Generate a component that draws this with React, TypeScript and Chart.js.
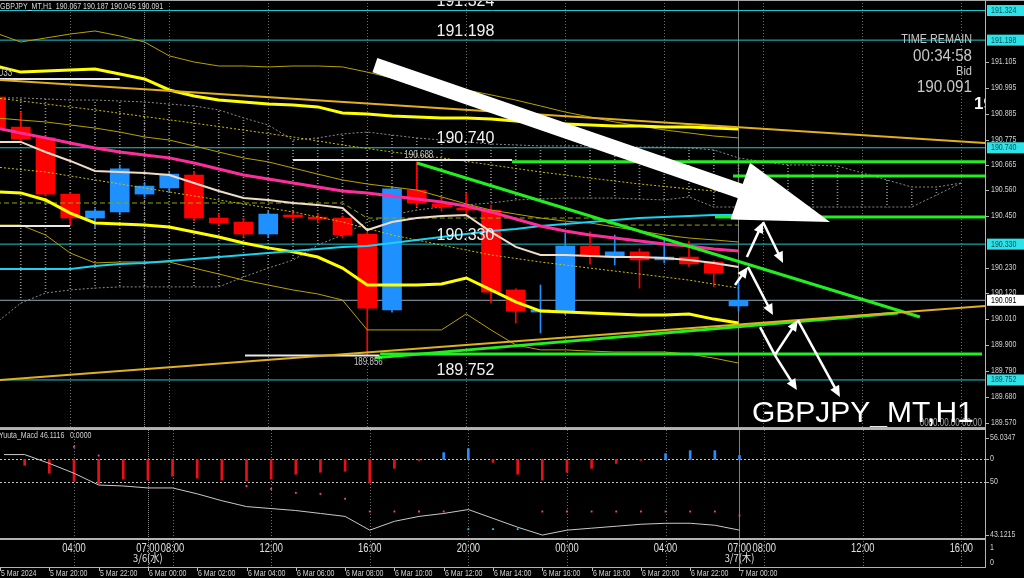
import React, { useEffect, useRef } from 'react';
import { Chart, registerables } from 'chart.js';
Chart.register(...registerables);

// ---------- categories (H1 bars, server time) ----------
const hours = [
  '5 Mar 18:00','5 Mar 19:00','5 Mar 20:00','5 Mar 21:00','5 Mar 22:00','5 Mar 23:00',
  '6 Mar 00:00','6 Mar 01:00','6 Mar 02:00','6 Mar 03:00','6 Mar 04:00','6 Mar 05:00',
  '6 Mar 06:00','6 Mar 07:00','6 Mar 08:00','6 Mar 09:00','6 Mar 10:00','6 Mar 11:00',
  '6 Mar 12:00','6 Mar 13:00','6 Mar 14:00','6 Mar 15:00','6 Mar 16:00','6 Mar 17:00',
  '6 Mar 18:00','6 Mar 19:00','6 Mar 20:00','6 Mar 21:00','6 Mar 22:00','6 Mar 23:00','7 Mar 00:00'
];

// ---------- OHLC ----------
const opens = [190.956,190.828,190.782,190.543,190.441,190.467,190.543,190.569,190.624,190.441,190.424,190.373,190.454,190.445,190.441,190.373,190.050,190.560,190.501,190.484,190.475,190.135,190.041,190.045,190.322,190.275,190.297,190.263,190.275,190.254,190.067];
const highs = [190.970,190.892,190.790,190.548,190.480,190.667,190.590,190.640,190.640,190.460,190.440,190.470,190.470,190.460,190.450,190.380,190.573,190.680,190.530,190.548,190.496,190.140,190.156,190.377,190.382,190.369,190.310,190.356,190.343,190.260,190.187];
const lows = [190.810,190.770,190.535,190.411,190.400,190.455,190.530,190.550,190.430,190.410,190.360,190.360,190.430,190.420,190.356,189.856,190.040,190.490,190.470,190.460,190.080,189.994,189.952,190.030,190.245,190.241,190.143,190.250,190.235,190.148,190.045];
const closes = [190.824,190.777,190.543,190.441,190.471,190.650,190.577,190.628,190.441,190.420,190.373,190.458,190.445,190.437,190.369,190.058,190.565,190.505,190.488,190.475,190.126,190.045,190.050,190.322,190.280,190.297,190.263,190.275,190.246,190.207,190.091];

// ---------- indicators ----------
const bandUpperThick = [191.088,191.062,191.067,191.071,191.075,191.054,191.033,190.986,190.960,190.943,190.935,190.926,190.922,190.914,190.888,190.884,190.875,190.871,190.867,190.867,190.862,190.854,190.845,190.841,190.837,190.833,190.833,190.828,190.828,190.824,190.820];
const bandLowerThick = [190.552,190.548,190.518,190.462,190.420,190.416,190.411,190.403,190.382,190.360,190.335,190.314,190.297,190.275,190.228,190.156,190.156,190.156,190.160,190.186,190.135,190.084,190.045,190.041,190.037,190.033,190.028,190.028,190.033,190.011,189.994];
const maPink = [190.824,190.803,190.782,190.760,190.739,190.722,190.709,190.697,190.675,190.650,190.624,190.607,190.590,190.573,190.556,190.548,190.535,190.522,190.509,190.492,190.467,190.437,190.407,190.386,190.369,190.356,190.343,190.331,190.322,190.309,190.301];
const maWheat = [190.765,190.765,190.722,190.684,190.641,190.637,190.633,190.624,190.590,190.556,190.526,190.518,190.505,190.497,190.484,190.390,190.424,190.441,190.450,190.454,190.382,190.318,190.284,190.284,190.280,190.275,190.275,190.271,190.262,190.250,190.233];
const maCyan = [190.224,190.224,190.224,190.224,190.237,190.245,190.250,190.258,190.267,190.275,190.284,190.292,190.301,190.309,190.318,190.322,190.335,190.348,190.360,190.373,190.386,190.394,190.407,190.416,190.424,190.433,190.441,190.445,190.450,190.454,190.454];
const bandOuterUp = [191.228,191.190,191.207,191.224,191.237,191.216,191.190,191.131,191.105,191.088,191.088,191.084,191.088,191.088,191.084,191.062,191.037,191.020,191.003,190.986,190.965,190.943,190.918,190.892,190.871,190.850,190.833,190.816,190.803,190.790,190.782];
const bandInnerUp = [190.867,190.858,190.850,190.837,190.824,190.807,190.786,190.773,190.748,190.722,190.697,190.680,190.654,190.628,190.603,190.586,190.573,190.560,190.531,190.501,190.475,190.458,190.441,190.428,190.420,190.403,190.386,190.369,190.356,190.348,190.339];
const bandOuterLow = [190.411,190.411,190.369,190.292,190.250,190.254,190.254,190.254,190.228,190.203,190.177,190.156,190.135,190.118,190.092,189.965,189.965,189.965,189.965,190.033,189.965,189.901,189.880,189.880,189.875,189.871,189.871,189.871,189.862,189.845,189.824];
const envUpIdx = [0,4,8,12,14,16,18,20,22,24,26,28,30];
const envUp = [190.952,190.901,190.845,190.786,190.752,190.722,190.697,190.667,190.637,190.611,190.586,190.565,190.548];
const envLowIdx = [0,2,4,6,8,10,12,14,16,18,20,22,24,26,28,30];
const envLow = [190.658,190.637,190.603,190.569,190.535,190.501,190.467,190.424,190.369,190.326,190.284,190.254,190.228,190.203,190.177,190.143];
const kijunIdx = [0,14,15,24,25,30];
const kijun = [190.505,190.505,190.441,190.441,190.411,190.411];
const cloudTop = [190.952,190.952,190.948,190.943,190.943,190.939,190.935,190.926,190.918,190.901,190.867,190.837,190.773,190.782,190.799,190.807,190.794,190.782,190.773,190.765,190.756,190.752,190.748,190.748,190.748,190.743,190.743,190.743,190.739,190.731,190.697,190.680,190.667,190.667,190.662,190.633,190.603,190.573,190.573,190.590];
const cloudBottom = [189.994,190.079,190.122,190.135,190.143,190.148,190.148,190.148,190.148,190.148,190.190,190.228,190.262,190.326,190.369,190.424,190.454,190.475,190.488,190.497,190.505,190.518,190.522,190.526,190.526,190.526,190.522,190.518,190.531,190.488,190.488,190.488,190.488,190.488,190.488,190.488,190.488,190.488,190.539,190.590];

// ---------- MACD panel ----------
const macdHist = [-4,-6,-14,-22,-25,-20,-21,-17,-19,-21,-22,-20,-15,-13,-12,-24,-9,-1,7,11,-3,-15,-21,-13,-9,-4,-1,6,9,9,4];
const macdLine = [5,5,-4,-14,-26,-27,-29,-29,-35,-42,-48,-50,-52,-55,-58,-72,-63,-58,-55,-51,-60,-69,-77,-72,-70,-68,-66,-65,-65,-67,-72];
const macdPinkDots = [null,null,null,13,4,null,null,null,null,null,-27,-30,-34,-35,-40,-53,-53,-53,-53,null,null,null,-53,-53,-53,-53,-53,-53,-53,-53,-57];
const macdCyanIdx = [19,20,21];
const macdCyanDots = [-71,-71,-71];
const macdTickVals = [22, 0, -23, -77];
const macdTickText = ['56.0347', '0', '50', '43.1215'];
const macdLevels = [0, -23];

// ---------- price levels & drawings ----------
const priceTicks = [191.105,190.995,190.885,190.775,190.665,190.560,190.450,190.230,190.120,190.010,189.900,189.790,189.680,189.570];
const hLevels = [191.324, 191.198, 190.740, 190.330, 189.752];
const bidPrice = 190.091;
const goldTrends = [[[0,191.030],[40,190.760]], [[0,189.751],[40,190.067]]];
const whiteMarks = [[[0,191.033],[5.0,191.033]], [[12.0,190.688],[20.85,190.688]], [[0,190.407],[2.99,190.407]], [[10.06,189.856],[15.5,189.856]]];
const greenLines = [
  [[20.85,190.680],[40,190.680]],
  [[29.78,190.620],[40,190.620]],
  [[29.05,190.445],[40,190.445]],
  [[17.01,190.675],[37.33,190.020]],
  [[15.31,189.846],[36.44,190.037]],
  [[15.52,189.863],[39.84,189.863]],
];
const bigArrow = [[15.31,191.092],[33.7,190.424]];
const smallArrows = [
  [[30.34,190.275],[30.99,190.424],1],
  [[30.99,190.424],[31.80,190.250],1],
  [[29.86,190.156],[30.38,190.233],1],
  [[30.38,190.233],[31.39,190.028],1],
  [[30.87,189.977],[31.47,189.858],0],
  [[31.47,189.858],[32.40,190.007],1],
  [[32.40,190.007],[34.10,189.680],1],
  [[31.47,189.858],[32.36,189.709],1],
];

// ---------- time axis ----------
const gridIdx = [3,7,11,15,19,23,27,31,35,39];
const daySepIdx = [6, 30];
const topTimeIdx = [3,6,7,11,15,19,23,27,30,31,35,39];
const topTimeText = ['04:00','07:00','08:00','12:00','16:00','20:00','00:00','04:00','07:00','08:00','12:00','16:00'];
const dateIdx = [6, 30];
const dateText = ['3/6(水)', '3/7(木)'];
const axisIdx = [0,2,4,6,8,10,12,14,16,18,20,22,24,26,28,30];
const axisText = ['5 Mar 2024','5 Mar 20:00','5 Mar 22:00','6 Mar 00:00','6 Mar 02:00','6 Mar 04:00','6 Mar 06:00','6 Mar 08:00','6 Mar 10:00','6 Mar 12:00','6 Mar 14:00','6 Mar 16:00','6 Mar 18:00','6 Mar 20:00','6 Mar 22:00','7 Mar 00:00'];

const X_MIN = 0.1616, X_MAX = 39.96;
const PRICE_MIN = 189.5476, PRICE_MAX = 191.3688;
const AXIS_W = 39;

const FONT = '"Liberation Sans", Arial, sans-serif';
const CJK = '"Noto Sans CJK JP", "Noto Sans CJK SC", sans-serif';

function txt(ctx: any, s: string, x: number, y: number, size: number, color: string, align = 'left', sx = 1, weight = 'normal', font = FONT, baseline = 'middle') {
  ctx.save();
  ctx.font = `${weight} ${size}px ${font}`;
  ctx.fillStyle = color;
  ctx.textAlign = align;
  ctx.textBaseline = baseline;
  ctx.translate(x, y);
  ctx.scale(sx, 1);
  ctx.fillText(s, 0, 0);
  ctx.restore();
}

function arrow(ctx: any, x1: number, y1: number, x2: number, y2: number, w: number, hl: number, hw: number, head: boolean) {
  const dx = x2 - x1, dy = y2 - y1, L = Math.hypot(dx, dy);
  const ux = dx / L, uy = dy / L;
  const bx = head ? x2 - ux * hl : x2, by = head ? y2 - uy * hl : y2;
  ctx.save();
  ctx.strokeStyle = '#ffffff';
  ctx.fillStyle = '#ffffff';
  ctx.lineWidth = w;
  ctx.lineCap = 'butt';
  ctx.beginPath();
  ctx.moveTo(x1, y1);
  ctx.lineTo(bx + ux, by + uy);
  ctx.stroke();
  if (head) {
    ctx.beginPath();
    ctx.moveTo(x2, y2);
    ctx.lineTo(bx - uy * hw, by + ux * hw);
    ctx.lineTo(bx + uy * hw, by - ux * hw);
    ctx.closePath();
    ctx.fill();
  }
  ctx.restore();
}

function vline(ctx: any, x: number, y1: number, y2: number, color: string, dash: number[]) {
  ctx.save();
  ctx.strokeStyle = color;
  ctx.lineWidth = 1;
  ctx.setLineDash(dash);
  ctx.beginPath();
  ctx.moveTo(Math.round(x) + 0.5, y1);
  ctx.lineTo(Math.round(x) + 0.5, y2);
  ctx.stroke();
  ctx.restore();
}

const mainDecor = {
  id: 'mainDecor',
  beforeDraw(chart: any) {
    const { ctx, width, height } = chart;
    ctx.save();
    ctx.fillStyle = '#000';
    ctx.fillRect(0, 0, width, height);
    ctx.restore();
  },
  beforeDatasetsDraw(chart: any) {
    const { ctx, scales: { x } } = chart;
    for (const i of gridIdx) vline(ctx, x.getPixelForValue(i), 0, 428, '#6e6e6e', [1, 2]);
    vline(ctx, x.getPixelForValue(daySepIdx[0]), 0, 428, '#8a8a8a', [1, 1]);
    vline(ctx, x.getPixelForValue(daySepIdx[1]), 0, 428, '#808080', []);
  },
  afterDatasetsDraw(chart: any) {
    const { ctx, scales: { x, y } } = chart;
    const X = (v: number) => x.getPixelForValue(v);
    const Y = (v: number) => y.getPixelForValue(v);
    const right = chart.chartArea.right;

    // arrows
    arrow(ctx, X(bigArrow[0][0]), Y(bigArrow[0][1]), X(bigArrow[1][0]), Y(bigArrow[1][1]), 15, 95, 30, true);
    for (const a of smallArrows) {
      const p: any = a;
      arrow(ctx, X(p[0][0]), Y(p[0][1]), X(p[1][0]), Y(p[1][1]), 2.5, 11, 5, p[2] === 1);
    }

    // level labels
    for (const l of hLevels) txt(ctx, l.toFixed(3), X(17.8), Y(l) - 9, 16, '#f2f2f2');
    txt(ctx, '190.688', X(16.5), Y(190.688) - 5, 10, '#c4c4c4', 'left', 0.8);
    txt(ctx, '189.856', X(14.46), Y(189.856) + 7, 10, '#c4c4c4', 'left', 0.8);
    txt(ctx, '191.033', X(0.65), Y(191.033) - 6, 10, '#c4c4c4', 'right', 0.8);

    // info block
    txt(ctx, 'TIME REMAIN', 972, 40, 12, '#c8c8c8', 'right', 0.9);
    txt(ctx, '00:34:58', 972, 56, 17, '#c8c8c8', 'right', 0.89);
    txt(ctx, 'Bid', 972, 71, 13, '#c8c8c8', 'right', 0.85);
    txt(ctx, '190.091', 972, 87, 17, '#c8c8c8', 'right', 0.9);
    ctx.save();
    ctx.beginPath();
    ctx.rect(0, 0, right, 428);
    ctx.clip();
    txt(ctx, '190.091', 974, 104, 17, '#ffffff', 'left', 1, 'bold');
    txt(ctx, '0000.00.00 00:00', 982, 423, 10, '#a8a8a8', 'right', 0.8);
    txt(ctx, 'GBPJPY_MT,H1', 752, 422, 30, '#ffffff', 'left', 1, 'normal', FONT, 'alphabetic');
    ctx.restore();

    // header
    ctx.save();
    ctx.fillStyle = '#a8a8a8';
    ctx.fillRect(0, 0, 1024, 1);
    ctx.fillRect(0, 427, right, 1);
    ctx.restore();
    txt(ctx, 'GBPJPY_MT,H1  190.067 190.187 190.045 190.091', 0, 7, 9, '#d8d8d8', 'left', 0.78);

    // price axis
    ctx.save();
    ctx.fillStyle = '#b4b4b4';
    ctx.fillRect(right, 0, 1, 428);
    for (const v of priceTicks) {
      const py = Math.round(Y(v));
      ctx.fillRect(right + 1, py, 3, 1);
      txt(ctx, v.toFixed(3), right + 6, py, 9, '#d0d0d0', 'left', 0.78);
    }
    for (const l of hLevels) {
      const py = Y(l);
      ctx.fillStyle = '#2fe2e8';
      ctx.fillRect(right + 2, py - 5.5, 37, 11);
      txt(ctx, l.toFixed(3), right + 6, py, 9, '#0b4f55', 'left', 0.78);
    }
    const by = Y(bidPrice);
    ctx.fillStyle = '#ffffff';
    ctx.fillRect(right + 2, by - 5.5, 37, 11);
    txt(ctx, bidPrice.toFixed(3), right + 6, by, 9, '#000000', 'left', 0.78);
    ctx.restore();
  },
};

const lowerDecor = {
  id: 'lowerDecor',
  beforeDraw(chart: any) {
    const { ctx, width, height } = chart;
    ctx.save();
    ctx.fillStyle = '#000';
    ctx.fillRect(0, 0, width, height);
    ctx.restore();
  },
  beforeDatasetsDraw(chart: any) {
    const { ctx, scales: { x, y } } = chart;
    const right = chart.chartArea.right;
    for (const i of gridIdx) vline(ctx, x.getPixelForValue(i), 2, 139, '#6e6e6e', [1, 2]);
    vline(ctx, x.getPixelForValue(daySepIdx[0]), 2, 139, '#8a8a8a', [1, 1]);
    vline(ctx, x.getPixelForValue(daySepIdx[1]), 2, 139, '#808080', []);
    ctx.save();
    ctx.strokeStyle = '#c8c8c8';
    ctx.lineWidth = 1;
    ctx.setLineDash([2, 2]);
    for (const l of macdLevels) {
      const py = Math.round(y.getPixelForValue(l)) + 0.5;
      ctx.beginPath();
      ctx.moveTo(0, py);
      ctx.lineTo(right, py);
      ctx.stroke();
    }
    ctx.restore();
  },
  afterDatasetsDraw(chart: any) {
    const { ctx, scales: { x, y } } = chart;
    const right = chart.chartArea.right;
    ctx.save();
    ctx.fillStyle = '#b4b4b4';
    ctx.fillRect(0, 0, right, 2);
    ctx.fillRect(0, 110, right, 2);
    ctx.fillRect(0, 139, right + 1, 1);
    ctx.fillRect(right, 0, 1, 140);
    ctx.restore();

    txt(ctx, 'Yuuta_Macd 46.1116', -1, 8, 9, '#d0d0d0', 'left', 0.78);
    txt(ctx, '0.0000', 70, 8, 9, '#d0d0d0', 'left', 0.78);

    ctx.save();
    ctx.fillStyle = '#b4b4b4';
    macdTickVals.forEach((v, k) => {
      let py = Math.round(y.getPixelForValue(v));
      ctx.fillRect(right + 1, py, 3, 1);
      txt(ctx, macdTickText[k], right + 5, py, 9, '#d0d0d0', 'left', 0.78);
    });
    ctx.restore();

    // time label panel
    topTimeIdx.forEach((i, k) => txt(ctx, topTimeText[k], x.getPixelForValue(i), 121, 12, '#e0e0e0', 'center', 0.78));
    dateIdx.forEach((i, k) => txt(ctx, dateText[k], x.getPixelForValue(i), 130, 11, '#e0e0e0', 'center', 0.85, 'normal', CJK));
    txt(ctx, '1', right + 5, 120, 9, '#d0d0d0', 'left', 0.78);
    txt(ctx, '0', right + 5, 135, 9, '#d0d0d0', 'left', 0.78);

    // bottom time axis
    ctx.save();
    ctx.fillStyle = '#c0c0c0';
    axisIdx.forEach((i, k) => {
      const px = Math.round(x.getPixelForValue(i));
      ctx.fillRect(px, 140, 1, 3);
      txt(ctx, axisText[k], px + 1, 146, 9, '#d0d0d0', 'left', 0.78);
    });
    ctx.restore();
  },
};

const lineDs = (data: any[], color: string, width: number, extra: any = {}) => ({
  type: 'line', data, borderColor: color, borderWidth: width, pointRadius: 0, fill: false, tension: 0, ...extra,
});
const byIndex = (arr: number[]) => arr.map((v, i) => ({ x: i, y: v }));
const byPairs = (xs: number[], ys: number[]) => xs.map((xv, k) => ({ x: xv, y: ys[k] }));
const seg = (pts: any[]) => pts.map((p: any) => ({ x: p[0], y: p[1] }));

function xScale() {
  return { type: 'linear', min: X_MIN, max: X_MAX, display: false, offset: false, grid: { offset: false } };
}
function yScale(min: number, max: number) {
  return {
    type: 'linear', position: 'right', min, max, display: true, beginAtZero: false,
    ticks: { display: false }, grid: { display: false }, border: { display: false },
    afterFit: (s: any) => { s.width = AXIS_W; },
  };
}

export default function App() {
  const mainRef = useRef<HTMLCanvasElement>(null);
  const lowRef = useRef<HTMLCanvasElement>(null);

  useEffect(() => {
    document.body.style.margin = '0';
    document.body.style.background = '#000';
    const mainCanvas = mainRef.current as HTMLCanvasElement;
    const lowCanvas = lowRef.current as HTMLCanvasElement;

    const pc = document.createElement('canvas');
    pc.width = 1; pc.height = 3;
    const pctx = pc.getContext('2d') as CanvasRenderingContext2D;
    pctx.fillStyle = '#8c8c8c';
    pctx.fillRect(0, 0, 1, 1);
    const hatch = (mainCanvas.getContext('2d') as CanvasRenderingContext2D).createPattern(pc, 'repeat');

    const candleColor = opens.map((o, i) => (closes[i] >= o ? '#1e90ff' : '#ff0000'));

    const mainDatasets: any[] = [
      ...goldTrends.map((t) => lineDs(seg(t), '#e0b020', 2, { order: 1 })),
      ...whiteMarks.map((t) => lineDs(seg(t), '#e8e8e8', 2, { order: 1 })),
      ...greenLines.map((t) => lineDs(seg(t), '#22ee22', 3, { order: 1 })),
      lineDs(byIndex(maPink), '#ff2d9b', 3, { order: 3 }),
      lineDs(byIndex(maWheat), '#f0dcc8', 2, { order: 3 }),
      lineDs(byIndex(maCyan), '#19d3f0', 2, { order: 3 }),
      lineDs(byIndex(bandUpperThick), '#ffff00', 3, { order: 3 }),
      lineDs(byIndex(bandLowerThick), '#ffff00', 3, { order: 3 }),
      lineDs(byIndex(bandOuterUp), '#b7a200', 1, { order: 4 }),
      lineDs(byIndex(bandInnerUp), '#b7a200', 1, { order: 4 }),
      lineDs(byIndex(bandOuterLow), '#b7a200', 1, { order: 4 }),
      lineDs(byPairs(envUpIdx, envUp), '#c9c000', 1, { order: 4, borderDash: [2, 2] }),
      lineDs(byPairs(envLowIdx, envLow), '#c9c000', 1, { order: 4, borderDash: [2, 2] }),
      lineDs(byPairs(kijunIdx, kijun), '#8fa800', 1, { order: 4, borderDash: [5, 3] }),
      {
        type: 'bar', order: 5, grouped: false, barThickness: 19, maxBarThickness: 19, minBarLength: 1,
        data: opens.map((o, i) => ({ x: i, y: [o, closes[i]] })), backgroundColor: candleColor, borderWidth: 0,
      },
      {
        type: 'bar', order: 6, grouped: false, barThickness: 1, maxBarThickness: 1,
        data: lows.map((l, i) => ({ x: i, y: [l, highs[i]] })), backgroundColor: candleColor, borderWidth: 0,
      },
      ...hLevels.map((l) => lineDs(seg([[-1, l], [41, l]]), '#20c8d0', 1, { order: 8 })),
      lineDs(seg([[-1, bidPrice], [41, bidPrice]]), '#9aa6b4', 1, { order: 8 }),
      lineDs(byIndex(cloudTop), '#8a8a8a', 1, { order: 9, borderDash: [2, 2] }),
      lineDs(byIndex(cloudBottom), '#8a8a8a', 1, { order: 9, borderDash: [2, 2] }),
      {
        type: 'bar', order: 10, grouped: false, barThickness: 1, maxBarThickness: 1,
        data: cloudTop.map((t, i) => ({ x: i, y: [cloudBottom[i], t] })), backgroundColor: hatch, borderWidth: 0,
      },
    ];

    const c1 = new Chart(mainCanvas, {
      type: 'line',
      data: { labels: hours, datasets: mainDatasets },
      options: {
        responsive: false, animation: false, devicePixelRatio: 1, events: [],
        layout: { padding: 0 },
        plugins: { legend: { display: false }, tooltip: { enabled: false } },
        scales: { x: xScale(), y: yScale(PRICE_MIN, PRICE_MAX) },
      } as any,
      plugins: [mainDecor],
    } as any);

    const lowDatasets: any[] = [
      lineDs(byPairs(macdCyanIdx, macdCyanDots), '#22c8e8', 0, {
        order: 1, showLine: false, pointRadius: 1.3, pointStyle: 'rect', pointBackgroundColor: '#22c8e8', pointBorderWidth: 0,
      }),
      lineDs(macdPinkDots.map((v, i) => ({ x: i, y: v })).filter((p) => p.y !== null), '#ff3d9a', 0, {
        order: 1, showLine: false, pointRadius: 1.3, pointStyle: 'rect', pointBackgroundColor: '#ff3d9a', pointBorderWidth: 0,
      }),
      lineDs(byIndex(macdLine), '#c8c8c8', 1, { order: 2 }),
      {
        type: 'bar', order: 3, grouped: false, barThickness: 2, maxBarThickness: 2,
        data: macdHist.map((v, i) => ({ x: i, y: [0, v] })),
        backgroundColor: macdHist.map((v) => (v < 0 ? '#e8101a' : '#2a8cff')), borderWidth: 0,
      },
    ];

    const c2 = new Chart(lowCanvas, {
      type: 'line',
      data: { labels: hours, datasets: lowDatasets },
      options: {
        responsive: false, animation: false, devicePixelRatio: 1, events: [],
        layout: { padding: { top: 2, bottom: 40, left: 0, right: 0 } },
        plugins: { legend: { display: false }, tooltip: { enabled: false } },
        scales: { x: xScale(), y: yScale(-80, 28) },
      } as any,
      plugins: [lowerDecor],
    } as any);

    return () => { c1.destroy(); c2.destroy(); };
  }, []);

  return (
    <div style={{ position: 'relative', width: 1024, height: 578, background: '#000', overflow: 'hidden' }}>
      <canvas ref={mainRef} width={1024} height={428} style={{ position: 'absolute', left: 0, top: 0 }} />
      <canvas ref={lowRef} width={1024} height={150} style={{ position: 'absolute', left: 0, top: 428 }} />
    </div>
  );
}
